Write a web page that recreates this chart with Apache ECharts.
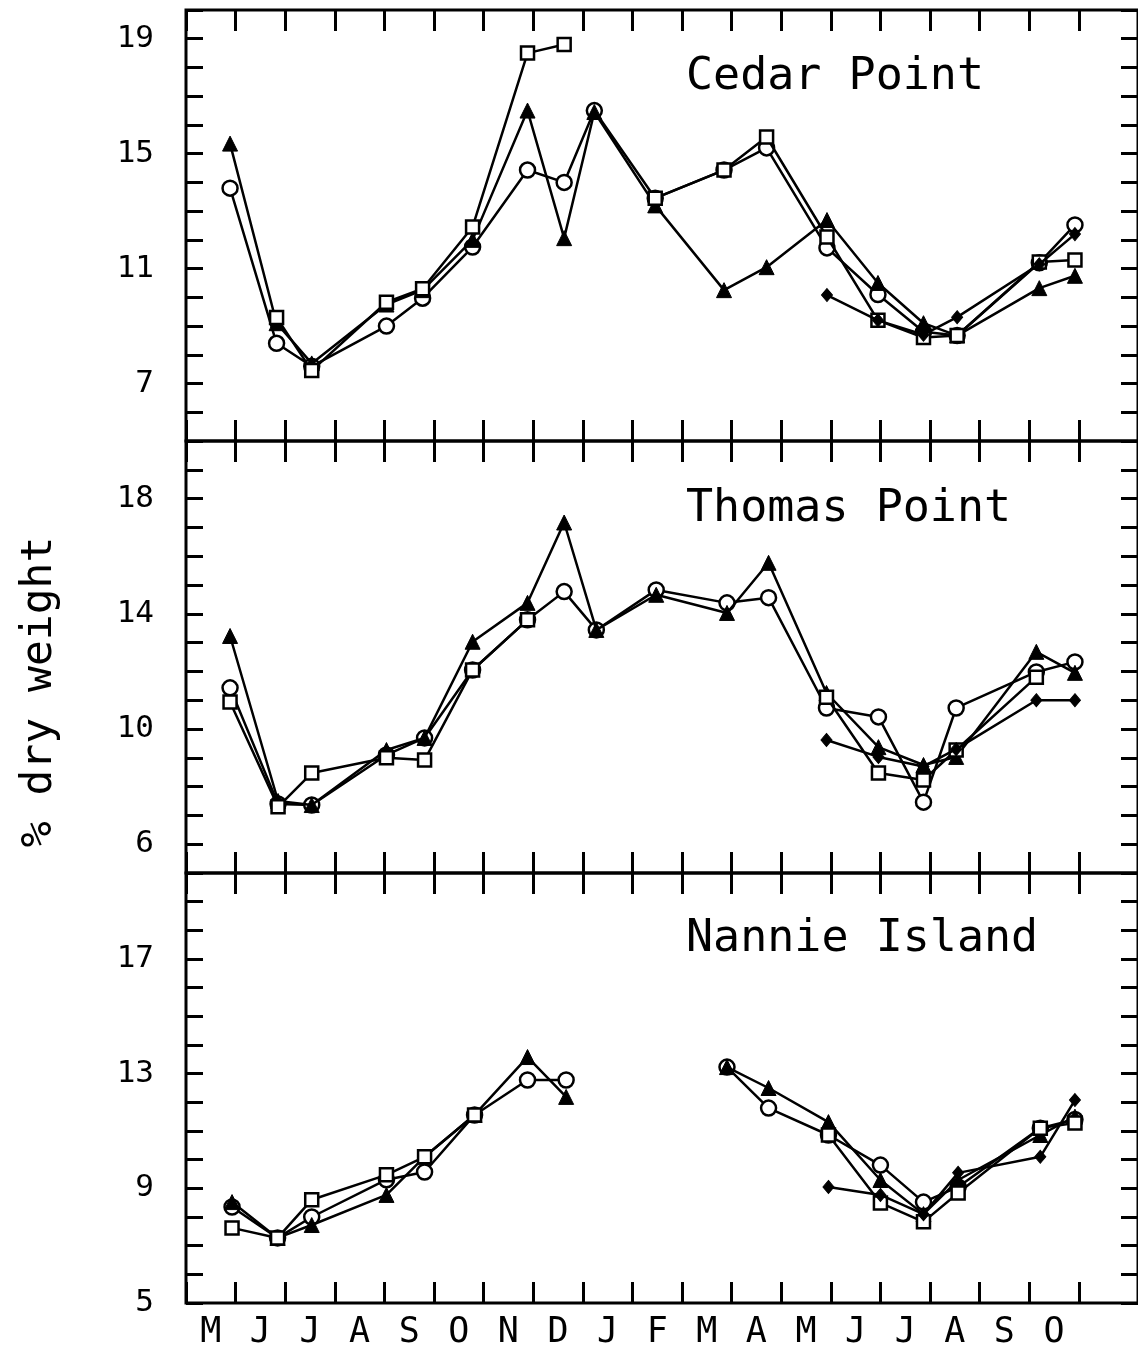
<!DOCTYPE html>
<html><head><meta charset="utf-8">
<script src="https://cdn.jsdelivr.net/npm/echarts@6/dist/echarts.min.js"></script>
<style>html,body{margin:0;padding:0;background:#fff}#c{width:1138px;height:1351px}</style>
</head><body><div id="c"></div>
<script>
// ---------------- data ----------------
const months = ['M','J','J','A','S','O','N','D','J','F','M','A','M','J','J','A','S','O'];
const panelNames = ['Cedar Point', 'Thomas Point', 'Nannie Island'];
const yLabelsCP = [7, 11, 15, 19];
const yLabelsTP = [6, 10, 14, 18];
const yLabelsNI = [5, 9, 13, 17];
const yAxisTitle = '% dry weight';

// sampling dates in months after 1 May (year 1)
const cpX = [0.89, 1.83, 2.54, 4.05, 4.78, 5.79, 6.90, 7.64, 8.25, 9.48, 10.87, 11.73, 12.95, 13.98, 14.90, 15.58, 17.24, 17.96];
const cpCircle   = [13.8, 8.4, 7.6, 9.0, 9.97, 11.75, 14.43, 14.0, 16.5, 13.45, 14.43, 15.2, 11.72, 10.1, 8.8, 8.67, 11.2, 12.52];
const cpTriangle = [15.35, 9.1, 7.7, 9.75, 10.25, 12.0, 16.5, 12.06, 16.45, 13.2, 10.25, 11.05, 12.69, 10.5, 9.1, 8.67, 10.32, 10.75];
const cpSquare   = [null, 9.3, 7.45, 9.83, 10.3, 12.45, 18.5, 18.8, null, 13.45, 14.43, 15.58, 12.1, 9.2, 8.6, 8.67, 11.23, 11.3];
const cpDiamond  = [null, null, null, null, null, null, null, null, null, null, null, null, 10.08, 9.2, 8.7, 9.31, 11.15, 12.2];

const tpX = [0.89, 1.86, 2.54, 4.05, 4.82, 5.79, 6.90, 7.64, 8.29, 9.50, 10.93, 11.77, 12.94, 13.99, 14.90, 15.56, 17.18, 17.96];
const tpCircle   = [11.43, 7.4, 7.36, 9.1, 9.69, 12.05, 13.79, 14.77, 13.44, 14.83, 14.38, 14.56, 10.73, 10.42, 7.46, 10.73, 11.98, 12.33];
const tpTriangle = [13.23, 7.5, 7.36, 9.27, 9.69, 13.03, 14.38, 17.17, 13.44, 14.66, 14.03, 15.77, 11.25, 9.37, 8.75, 9.03, 12.68, 11.95];
const tpSquare   = [10.94, 7.3, 8.47, 9.0, 8.92, 12.05, 13.79, null, null, null, null, null, 11.1, 8.47, 8.23, 9.27, 11.8, null];
const tpDiamond  = [null, null, null, null, null, null, null, null, null, null, null, null, 9.62, 9.03, 8.7, 9.3, 11.0, 11.0];

// Nannie Island: no samples in Jan/Feb (gap entry at 9.3)
const niX = [0.93, 1.85, 2.54, 4.05, 4.82, 5.83, 6.90, 7.68, 9.3, 10.93, 11.77, 12.98, 14.03, 14.90, 15.60, 17.26, 17.96];
const niCircle   = [8.35, 7.27, 8.0, 9.3, 9.57, 11.56, 12.78, 12.78, null, 13.23, 11.8, 10.86, 9.81, 8.52, 9.05, 11.1, 11.4];
const niTriangle = [8.52, 7.27, 7.72, 8.77, 10.1, 11.56, 13.58, 12.19, null, 13.23, 12.5, 11.31, 9.29, 8.1, 9.29, 10.86, 11.5];
const niSquare   = [7.62, 7.27, 8.6, 9.47, 10.1, 11.56, null, null, null, null, null, 10.86, 8.49, 7.83, 8.84, 11.1, 11.28];
const niDiamond  = [null, null, null, null, null, null, null, null, null, null, null, 9.05, 8.77, 8.1, 9.54, 10.1, 12.08];

// ---------------- layout ----------------
const FONT = 'DejaVu Sans Mono';
const LEFT = 186, MONTH_W = 49.6, CHART_W = 1138, RIGHT = -2;
const DATA_W = CHART_W - LEFT - RIGHT;
const X_MAX = DATA_W / MONTH_W;
const tops = [10, 441, 873];
const heights = [431, 432, 430];
const yLabelSets = [yLabelsCP, yLabelsTP, yLabelsNI];
const titleY = [78, 510, 940];
const panels = [
  {x: cpX, s: [cpCircle, cpTriangle, cpSquare, cpDiamond]},
  {x: tpX, s: [tpCircle, tpTriangle, tpSquare, tpDiamond]},
  {x: niX, s: [niCircle, niTriangle, niSquare, niDiamond]}
];
const markerStyles = [
  {symbol: 'circle', symbolSize: 15, itemStyle: {color: '#fff', borderColor: '#000', borderWidth: 2.5}},
  {symbol: 'triangle', symbolSize: 15, itemStyle: {color: '#000', borderColor: '#000', borderWidth: 1}},
  {symbol: 'rect', symbolSize: 13, itemStyle: {color: '#fff', borderColor: '#000', borderWidth: 2.5}},
  {symbol: 'diamond', symbolSize: [11, 13], itemStyle: {color: '#000', borderColor: '#000', borderWidth: 1}}
];

const grid = [], xAxis = [], yAxis = [], series = [], graphic = [];
const tickStyle = {color: '#000', width: 3};

for (let p = 0; p < 3; p++) {
  grid.push({left: LEFT, right: RIGHT, top: tops[p], height: heights[p], show: true,
             borderColor: '#000', borderWidth: 3, backgroundColor: 'transparent'});
  grid.push({left: LEFT, width: 18 * MONTH_W, top: tops[p], height: heights[p], show: false});

  xAxis.push({gridIndex: 2 * p, type: 'value', min: 0, max: X_MAX, show: false});
  const tickAxis = (pos, labels) => ({
    gridIndex: 2 * p + 1, type: 'category', data: months, boundaryGap: true, position: pos,
    axisLine: {show: false},
    axisTick: {show: true, inside: true, length: 21, interval: 0, lineStyle: tickStyle},
    axisLabel: {show: labels, interval: 0, margin: 12, color: '#000', fontFamily: FONT, fontSize: 35},
    splitLine: {show: false}
  });
  xAxis.push(tickAxis('bottom', p === 2));
  xAxis.push(tickAxis('top', false));

  const labs = yLabelSets[p];
  yAxis.push({gridIndex: 2 * p, type: 'value', min: 5, max: 20, interval: 1, position: 'left',
    axisLine: {show: false},
    axisTick: {show: true, inside: true, length: 17, lineStyle: tickStyle},
    axisLabel: {show: true, margin: 32, color: '#000', fontFamily: FONT, fontSize: 31,
                formatter: v => labs.includes(v) ? String(v) : ''},
    splitLine: {show: false}});
  yAxis.push({gridIndex: 2 * p, type: 'value', min: 5, max: 20, interval: 1, position: 'right',
    axisLine: {show: false},
    axisTick: {show: true, inside: true, length: 17, lineStyle: tickStyle},
    axisLabel: {show: false}, splitLine: {show: false}});
  yAxis.push({gridIndex: 2 * p + 1, type: 'value', show: false});

  const pd = panels[p];
  pd.s.forEach((ys, k) => {
    series.push(Object.assign({
      type: 'line', xAxisIndex: 3 * p, yAxisIndex: 3 * p,
      data: pd.x.map((x, i) => [x, ys[i] == null ? '-' : ys[i]]),
      lineStyle: {color: '#000', width: 2.5},
      showSymbol: true, connectNulls: false, silent: true, animation: false,
      emphasis: {disabled: true}, z: 2 + k
    }, markerStyles[k]));
  });

  graphic.push({type: 'text', left: 686, top: titleY[p] - 23,
    style: {text: panelNames[p], font: '45px "' + FONT + '"', fill: '#000'}});
}

graphic.push({type: 'text', x: 40, y: 692, rotation: Math.PI / 2,
  style: {text: yAxisTitle, font: '43px "' + FONT + '"', fill: '#000', align: 'center', verticalAlign: 'middle'}});

const chart = echarts.init(document.getElementById('c'), null, {renderer: 'canvas'});
chart.setOption({animation: false, backgroundColor: '#fff', grid, xAxis, yAxis, series, graphic});
</script></body></html>
